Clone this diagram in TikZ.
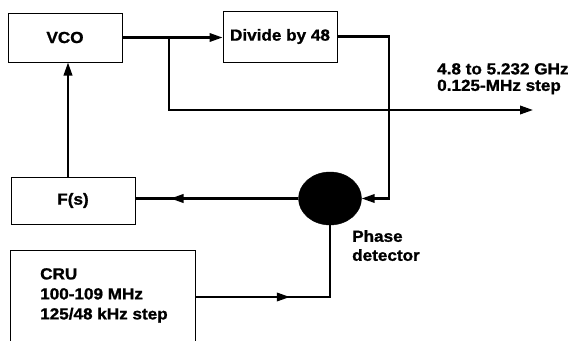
\documentclass[tikz,border=0pt]{standalone}
\usepackage{fontspec}
\setmainfont{Liberation Sans}[FakeStretch=1.07, BoldFeatures={FakeBold=1.2}]
\usetikzlibrary{arrows.meta,decorations.markings,shapes.geometric}
\begin{document}
\begin{tikzpicture}[x=1pt,y=-1pt,
  box/.style={draw, line width=1pt, inner sep=0pt, font=\bfseries\fontsize{16}{19}\selectfont},
  wire/.style={line width=2.1pt},
  tip/.style={-{Triangle[length=13pt,width=8.5pt]}},
  lbl/.style={font=\bfseries\fontsize{16}{#1}\selectfont, align=left, inner sep=0pt},
  midarrow/.style={postaction={decorate}, decoration={markings, mark=at position #1 with {\arrow{Triangle[length=13pt,width=8.5pt]}}}}
]
\clip (0,0) rectangle (570,340);
% blocks
\node[box, minimum width=114pt, minimum height=49pt] (vco) at (65,37.5) {VCO};
\node[box, minimum width=114pt, minimum height=51pt] (div) at (280,36.5) {Divide by 48};
\node[box, minimum width=124pt, minimum height=47pt] (fs) at (73,200.5) {F(s)};
\node[ellipse, draw, fill=black, minimum width=63pt, minimum height=53pt, inner sep=0pt] (pd) at (330,198.5) {};
\node[box, minimum width=185pt, minimum height=94pt] (cru) at (102.5,297) {};
% texts
\node[lbl=20, anchor=north west] (crutxt) at (40,268) {CRU\\100-109 MHz\\125/48 kHz step};
\node[lbl=16.5, anchor=north west] (outtxt) at (437,63) {4.8 to 5.232 GHz\\0.125-MHz step};
\node[lbl=19, anchor=north west] (pdtxt) at (352,230) {Phase\\detector};
% connectors
\coordinate (br) at (169,37.5);
\coordinate (out) at (533,110);
\coordinate (pdr) at (389,198.5);
\draw[wire,tip] (vco.east) -- (vco.east -| div.west);
\draw[wire,tip] (br) |- (out);
\draw[wire,tip] (div.east) -| (pdr) -- (pd.east);
\draw[wire,midarrow=0.785] (pd.west) -- (pd.west -| fs.east);
\draw[wire,midarrow=0.457] (cru.east) -| (pd.south);
\draw[wire,tip] ([xshift=-5pt]fs.north) -- ([xshift=-5pt]fs.north |- vco.south);
\end{tikzpicture}
\end{document}
